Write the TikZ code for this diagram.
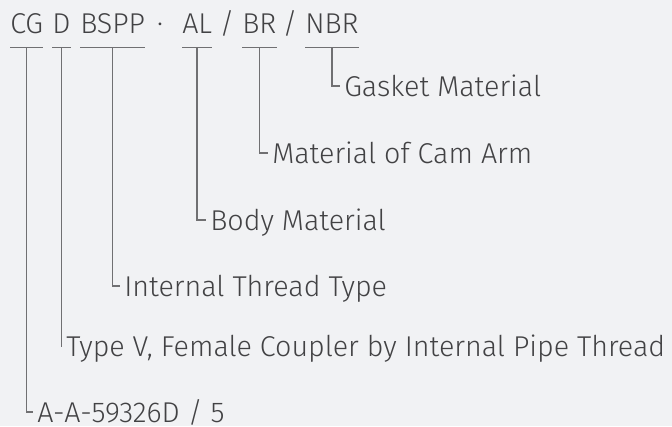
\documentclass[tikz,border=0pt]{standalone}
\usepackage{fontspec}
\setmainfont{Fira Sans}[UprightFont=* Light]
\usepackage{tikz}

\definecolor{bgcol}{RGB}{241,242,244}
\definecolor{txtcol}{RGB}{66,66,68}
\definecolor{barcol}{RGB}{112,112,114}
\newcommand\codefont{\fontsize{21.5pt}{26pt}\selectfont}

\begin{document}
\begin{tikzpicture}[x=0.75pt,y=0.75pt,yscale=-1,xscale=1,
  code/.style={anchor=base west,inner sep=0pt,text depth=10.5pt,text=txtcol,font=\codefont},
  sep/.style={anchor=base,inner sep=0pt,text=txtcol,font=\codefont},
  lbl/.style={anchor=west,inner xsep=3pt,inner ysep=0pt,text height=15pt,text depth=0pt,text=txtcol,font=\codefont},
  bar/.style={draw=barcol,line width=1.1pt},
  lead/.style={draw=barcol,line width=1.1pt}]
  %set diagram left start at 0, and has height of 426
  \fill[bgcol] (0,0) rectangle (672,426);
  \useasboundingbox (0,0) rectangle (672,426);

  % Code line
  \node[code] (cg) at (10,33) {CG};
  \node[code] (d) at (52,33) {D};
  \node[code] (bspp) at (80,33) {BSPP};
  \node[sep] (dot) at (160,33) {·};
  \node[code] (al) at (182,33) {AL};
  \node[sep] (slasha) at (227,33) {/};
  \node[code] (br) at (242,33) {BR};
  \node[sep] (slashb) at (290,33) {/};
  \node[code] (nbr) at (305,33) {NBR};

  % Bars under the codes
  \foreach \n in {cg,d,bspp,al,br,nbr}
    \draw[bar] (\n.south west) -- (\n.south east);

  % Text Nodes
  \node[lbl] (gasket) at (340,86) {Gasket Material};
  \node[lbl] (camarm) at (268,153) {Material of Cam Arm};
  \node[lbl] (body) at (206,220) {Body Material};
  \node[lbl] (thread) at (120,286) {Internal Thread Type};
  \node[lbl] (typev) at (62,346) {Type V, Female Coupler by Internal Pipe Thread};
  \node[lbl] (spec) at (33,412) {A-A-59326D / 5};

  % Leader lines
  \draw[lead] (nbr.south) |- (gasket.west);
  \draw[lead] (br.south) |- (camarm.west);
  \draw[lead] (al.south) |- (body.west);
  \draw[lead] (bspp.south) |- (thread.west);
  \draw[lead] (d.south) |- (typev.west);
  \draw[lead] (cg.south) |- (spec.west);
\end{tikzpicture}
\end{document}
